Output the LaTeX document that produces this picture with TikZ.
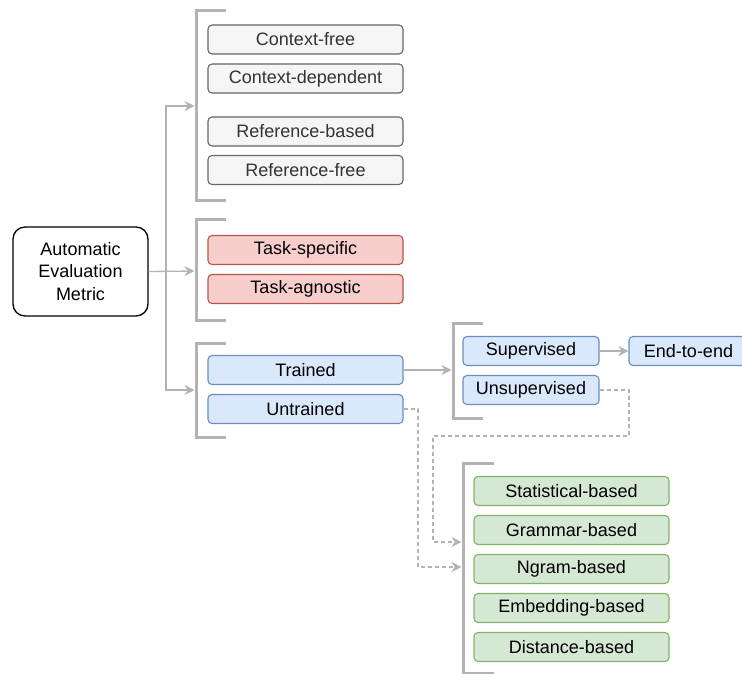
\documentclass[tikz,border=0pt]{standalone}
\usepackage{fontspec}
\setmainfont{Liberation Sans}
\usetikzlibrary{arrows.meta}
\definecolor{grayfill}{HTML}{F5F5F5}
\definecolor{grayline}{HTML}{666666}
\definecolor{graytext}{HTML}{333333}
\definecolor{redfill}{HTML}{F8CECC}
\definecolor{redline}{HTML}{B85450}
\definecolor{bluefill}{HTML}{DAE8FC}
\definecolor{blueline}{HTML}{6C8EBF}
\definecolor{greenfill}{HTML}{D5E8D4}
\definecolor{greenline}{HTML}{82B366}
\definecolor{brk}{HTML}{B3B3B3}
\begin{document}
\begin{tikzpicture}[x=1pt,y=-1pt,
  box/.style={draw, rounded corners=4pt, minimum width=195pt, minimum height=29pt,
    line width=1.1pt, inner sep=0pt, font=\fontsize{18}{20}\selectfont},
  graybox/.style={box, fill=grayfill, draw=grayline, text=graytext},
  redbox/.style={box, fill=redfill, draw=redline},
  bluebox/.style={box, fill=bluefill, draw=blueline},
  greenbox/.style={box, fill=greenfill, draw=greenline},
  bracket/.style={draw=brk, line width=3pt},
  link/.style={draw=brk, line width=1.3pt, -{Stealth[length=10pt,width=10pt,fill=brk]}},
  dlink/.style={link, dash pattern=on 4pt off 3pt}
]
\clip (0,0) rectangle (742,673);

% root
\node[draw, line width=1.3pt, rounded corners=12pt, minimum width=135pt, minimum height=89pt,
  align=center, font=\fontsize{18}{22.3}\selectfont] (root) at (80.5,271.5)
  {Automatic\\Evaluation\\Metric};

% first group
\node[graybox] (cfree) at (305.5,39.5) {Context-free};
\node[graybox] (cdep)  at (305.5,78.5) {Context-dependent};
\node[graybox] (rbase) at (305.5,131.5) {Reference-based};
\node[graybox] (rfree) at (305.5,170) {Reference-free};

% second group
\node[redbox] (tspec) at (305.5,250) {Task-specific};
\node[redbox] (tagn)  at (305.5,289) {Task-agnostic};

% third group
\node[bluebox] (trained) at (305.5,370) {Trained};
\node[bluebox] (untr)    at (305.5,409) {Untrained};

% trained subgroup
\node[bluebox, minimum width=136pt] (sup)   at (531,351) {Supervised};
\node[bluebox, minimum width=136pt] (unsup) at (531,390) {Unsupervised};
\node[bluebox, minimum width=119pt] (e2e)   at (688.5,351) {End-to-end};

% untrained subgroup
\node[greenbox] (stat) at (571.5,491) {Statistical-based};
\node[greenbox] (gram) at (571.5,530) {Grammar-based};
\node[greenbox] (ngram) at (571.5,569) {Ngram-based};
\node[greenbox] (emb)  at (571.5,608) {Embedding-based};
\node[greenbox] (dist) at (571.5,647) {Distance-based};

% brackets
\draw[bracket] (226,10) -- (196,10) -- (196,200) -- (226,200);
\draw[bracket] (226,219) -- (196,219) -- (196,320) -- (226,320);
\draw[bracket] (226,343) -- (196,343) -- (196,437) -- (226,437);
\draw[bracket] (483,323) -- (453,323) -- (453,418) -- (483,418);
\draw[bracket] (494,463) -- (463,463) -- (463,673) -- (494,673);

% arrow targets on the bracket spines
\coordinate (b1) at (194.5,106);
\coordinate (b2) at (194.5,271);
\coordinate (b3) at (194.5,390);
\coordinate (b4) at (451.5,370);
\coordinate (b5a) at (461.5,542);
\coordinate (b5b) at (461.5,567);
\coordinate (fork) at (166,271);
\coordinate (u1) at (629,436);
\coordinate (u2) at (433,436);
\coordinate (u3) at (418,567);

% connectors
\draw[link] (root.east) -- (b2);
\draw[link] (fork) |- (b1);
\draw[link] (fork) |- (b3);
\draw[link] (trained.east) -- (b4);
\draw[link] (sup.east) -- (e2e.west);
\draw[dlink] (unsup.east) -| (u1) -- (u2) |- (b5a);
\draw[dlink] (untr.east) -| (u3) -- (b5b);
\end{tikzpicture}
\end{document}
